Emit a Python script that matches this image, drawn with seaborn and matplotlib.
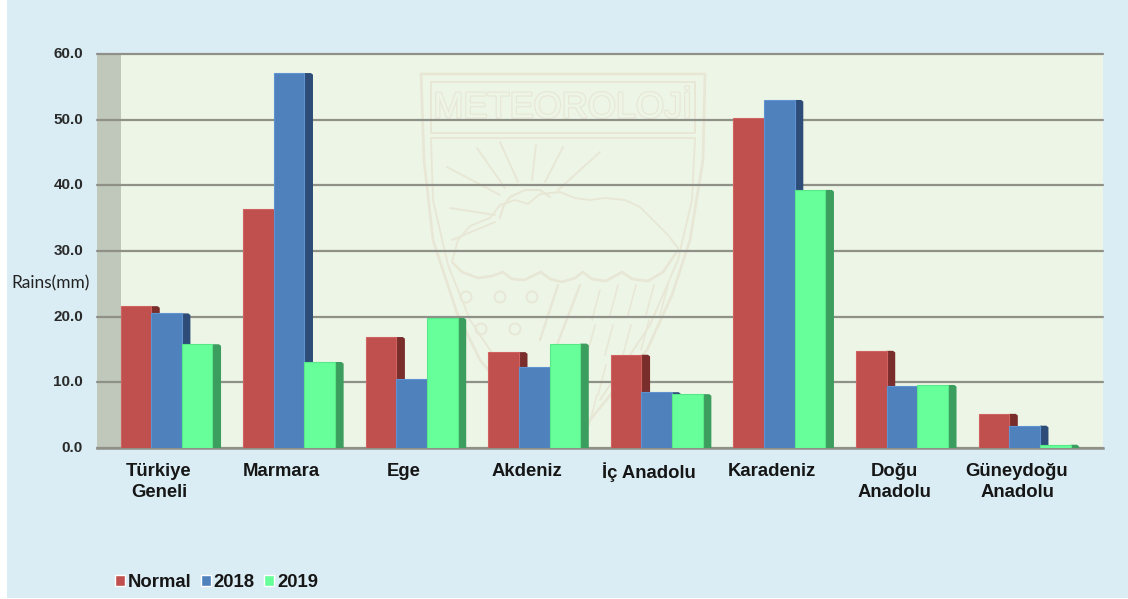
import numpy as np
import pandas as pd
import matplotlib
matplotlib.use("Agg")
import matplotlib.pyplot as plt
from matplotlib.patches import Polygon, Rectangle, Ellipse
from matplotlib.lines import Line2D
from matplotlib.transforms import ScaledTranslation
from matplotlib import patheffects as pe
import seaborn as sns

regions = ["Türkiye\nGeneli", "Marmara", "Ege", "Akdeniz", "İç Anadolu",
           "Karadeniz", "Doğu\nAnadolu", "Güneydoğu\nAnadolu"]
normal = [21.6, 36.4, 16.9, 14.6, 14.2, 50.2, 14.8, 5.2]
y2018 = [20.5, 57.1, 10.5, 12.3, 8.5, 53.0, 9.4, 3.4]
y2019 = [15.8, 13.1, 19.8, 15.9, 8.2, 39.3, 9.6, 0.5]
series_names = ["Normal", "2018", "2019"]
face_colors = ["#C0504D", "#4F81BD", "#66FF99"]
side_colors = ["#7A2E2C", "#2D4D78", "#3C9E5E"]
edge_colors = ["#D0625F", "#5E92D0", "#58E88A"]
yticks = [0, 10, 20, 30, 40, 50, 60]

W, H = 1128, 599
sns.set_theme(style="white")
plt.rcParams["font.family"] = ["Liberation Sans", "DejaVu Sans"]

fig = plt.figure(figsize=(W / 100, H / 100), dpi=100, facecolor="white")
fig.add_artist(Rectangle((7 / W, 1.5 / H), 1 - 7 / W, 1, transform=fig.transFigure,
                         facecolor="#DAEDF4", edgecolor="none", zorder=-5))
L, R, T, B = 97, 1103, 54, 448
ax = fig.add_axes([L / W, 1 - B / H, (R - L) / W, (B - T) / H])
ax.set_facecolor("#EDF6E6")

df = pd.DataFrame({"region": regions * 3,
                   "value": normal + y2018 + y2019,
                   "series": np.repeat(series_names, len(regions))})
sns.barplot(data=df, x="region", y="value", hue="series", hue_order=series_names,
            order=regions, palette=face_colors, width=0.75, gap=0, dodge=True,
            saturation=1, errorbar=None, ax=ax, legend=True)

x0, x1 = -0.567, 7.64
ax.set_xlim(x0, x1)
ax.set_ylim(0, 60)
wall_end = -0.371
ax.add_patch(Rectangle((x0, 0), wall_end - x0, 60, facecolor="#BFC8BA",
                       edgecolor="none", zorder=0.2))

# 3-D sides derived from each bar's own geometry
side_w = 0.07
for i, cont in enumerate(ax.containers):
    for p in cont.patches:
        xr = p.get_x() + p.get_width()
        h = p.get_height()
        dip = min(0.25, h * 0.5)
        ax.add_patch(Polygon([(xr, 0), (xr, h), (xr + side_w * 0.75, h),
                              (xr + side_w, h - dip), (xr + side_w, 0)],
                             closed=True, facecolor=side_colors[i], edgecolor="none",
                             zorder=3 + 2 * i))
        p.set_zorder(4 + 2 * i)
        p.set_edgecolor(edge_colors[i])
        p.set_linewidth(0.8)

# Faint watermark (logo) in pixel space
def P(pts):
    return [(x / W, 1 - y / H) for x, y in pts]
wm = "#E8E7D6"
def wline(pts, lw=1.6, c=wm):
    xy = P(pts)
    ln = Line2D([a for a, _ in xy], [b for _, b in xy], color=c, lw=lw,
                transform=fig.transFigure, zorder=0.5, solid_capstyle="round",
                solid_joinstyle="round")
    ax.add_line(ln)

wline([(421, 74), (705, 74), (703, 160), (690, 240), (672, 295), (647, 350),
       (590, 420), (565, 445), (530, 420), (480, 360), (457, 313), (433, 240),
       (424, 160), (421, 74)], 2.0)
wline([(431, 82), (695, 82), (695, 133), (431, 133), (431, 82)], 1.4)
wline([(431, 138), (695, 138), (692, 200), (678, 260), (650, 325), (600, 400)], 1.4)
wline([(431, 138), (433, 200), (448, 265), (470, 320), (500, 365)], 1.4)
for a, b in [((500, 195), (447, 167)), ((505, 188), (477, 148)), ((518, 182), (500, 142)),
             ((532, 180), (536, 145)), ((545, 182), (563, 147)), ((558, 190), (600, 152)),
             ((495, 215), (450, 208)), ((495, 222), (452, 240))]:
    wline([a, b], 1.4)
wline([(500, 218), (503, 207), (510, 197), (525, 190), (540, 190), (550, 197)], 1.6)
wline([(452, 262), (458, 240), (470, 226), (490, 218), (500, 205), (515, 200), (528, 204),
       (540, 194), (560, 192), (575, 198), (590, 200), (605, 198), (625, 200), (640, 207),
       (655, 222), (668, 235), (678, 248)], 1.4)
wline([(453, 263), (462, 272), (478, 278), (492, 276), (503, 272), (512, 279), (524, 280),
       (541, 272), (550, 279), (562, 282), (575, 278), (583, 272), (592, 279), (606, 281),
       (622, 272), (632, 279), (648, 281), (663, 272), (678, 250)], 2.0)
for cx, cy in [(466, 297), (500, 297), (532, 297), (481, 329), (515, 329)]:
    ax.add_patch(Ellipse((cx / W, 1 - cy / H), 11 / W, 11 / H, transform=fig.transFigure,
                         facecolor="none", edgecolor=wm, lw=1.4, zorder=0.5))
wline([(558, 285), (540, 340)], 1.8)
wline([(580, 285), (555, 350)], 1.8)
for rx, ry in [(600, 290), (618, 285), (636, 285), (654, 285), (668, 285),
               (595, 325), (613, 325), (631, 325), (649, 320),
               (588, 365), (606, 365), (624, 358), (575, 395), (597, 395)]:
    wline([(rx, ry), (rx - 8, ry + 30)], 1.2)
ax.text(563 / W, 1 - 108 / H, "METEOROLOJİ", transform=fig.transFigure, ha="center", va="center",
        fontsize=26, color="#EDF6E6", zorder=0.5,
        path_effects=[pe.withStroke(linewidth=1.8, foreground=wm)])

# Axes styling
ax.set_yticks(yticks)
ax.set_yticklabels([f"{v:.1f}" for v in yticks], fontsize=11, color="#2A2A2A", fontweight="bold")
ax.yaxis.grid(True, color="#8F9088", lw=1.6, zorder=1)
ax.xaxis.grid(False)
ax.set_axisbelow(False)
for gl in ax.get_ygridlines():
    gl.set_zorder(1)
    gl.set_clip_on(False)
ax.tick_params(axis="y", length=0, pad=10)
ax.tick_params(axis="x", length=0, pad=10.5)
shift = ScaledTranslation(-7.5 / 100, 0, fig.dpi_scale_trans)
for lab in ax.get_xticklabels():
    lab.set_fontsize(13.3)
    lab.set_fontweight("bold")
    lab.set_color("#161616")
    lab.set_linespacing(1.32)
    lab.set_transform(lab.get_transform() + shift)
for lab in ax.get_yticklabels():
    lab.set_transform(lab.get_transform() + ScaledTranslation(0, 1.5 / 100, fig.dpi_scale_trans))
for s in ["top", "right", "left"]:
    ax.spines[s].set_visible(False)
ax.spines["bottom"].set_color("#8F9088")
ax.spines["bottom"].set_linewidth(1.8)
ax.set_xlabel("")
ax.set_ylabel("Rains(mm)", rotation=0, fontsize=12.4, family=["Lato", "DejaVu Sans"],
              color="#222222", ha="left", va="center")
ax.yaxis.set_label_coords((11 - L) / (R - L), (B - 283) / (B - T))

handles, labels = ax.get_legend_handles_labels()
ax.legend(handles, labels, loc="lower left", bbox_to_anchor=(115 / W, 1 - 591 / H),
          bbox_transform=fig.transFigure, ncol=3, frameon=False, title=None,
          prop={"family": "Liberation Sans", "weight": "bold", "size": 13.3},
          handlelength=0.55, handleheight=0.55, handletextpad=0.15, columnspacing=0.5,
          borderpad=0, borderaxespad=0, labelcolor="#161616")

fig.savefig("out.png", dpi=100, facecolor=fig.get_facecolor())
